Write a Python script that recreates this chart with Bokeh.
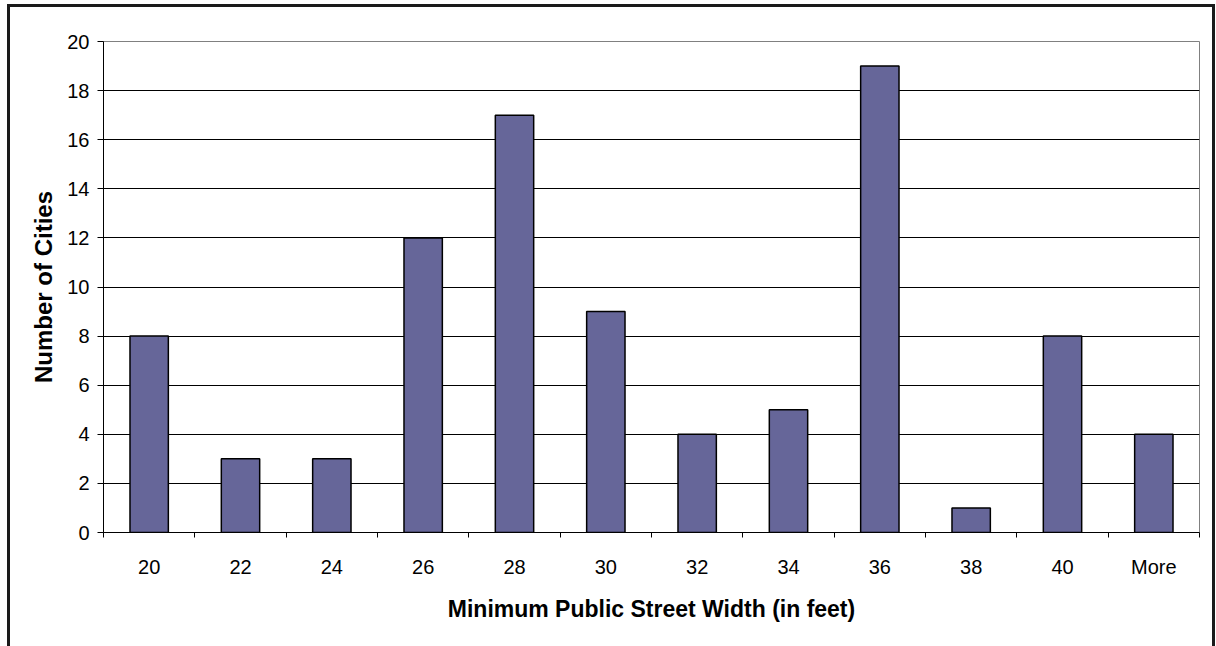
from bokeh.plotting import figure
from bokeh.models import ColumnDataSource, FixedTicker, Range1d
from bokeh.embed import file_html
from bokeh.resources import INLINE

categories = ["20", "22", "24", "26", "28", "30", "32", "34", "36", "38", "40", "More"]
counts = [8, 3, 3, 12, 17, 9, 4, 5, 19, 1, 8, 4]
y_ticks = [0, 2, 4, 6, 8, 10, 12, 14, 16, 18, 20]

x_centers = [i + 0.5 for i in range(len(categories))]
src = ColumnDataSource(dict(x=x_centers, top=counts, cat=categories))

p = figure(width=1202, height=639, output_backend="svg", toolbar_location=None,
           x_range=Range1d(0, len(categories)), y_range=Range1d(0, 20),
           min_border_left=93, min_border_right=19, min_border_top=34, min_border_bottom=117)
p.styles = {"border-top": "3px solid #1a1a1a", "border-left": "3px solid #1a1a1a",
            "border-right": "3px solid #1a1a1a", "border-bottom": "none",
            "box-sizing": "content-box", "margin-left": "7px", "margin-top": "4px"}
p.background_fill_color = "white"
p.border_fill_color = "white"
p.outline_line_color = "#808080"
p.outline_line_width = 1

p.vbar(x="x", top="top", bottom=0, width=0.42, source=src,
       fill_color="#666699", line_color="black", line_width=1.5)

font = "Liberation Sans"

# X axis: labels at bar centres, tick marks at category boundaries
xa = p.xaxis[0]
xa.ticker = FixedTicker(ticks=x_centers, minor_ticks=list(range(len(categories) + 1)))
xa.major_label_overrides = {x: c for x, c in zip(x_centers, categories)}
xa.major_tick_out = 0
xa.major_tick_in = 0
xa.minor_tick_out = 5
xa.minor_tick_in = 0
xa.minor_tick_line_color = "black"
xa.axis_line_color = "black"
xa.major_label_text_font = font
xa.major_label_text_font_size = "20px"
xa.major_label_text_color = "black"
xa.major_label_standoff = 18
xa.axis_label = "Minimum Public Street Width (in feet)"
xa.axis_label_text_font = font
xa.axis_label_text_font_size = "23px"
xa.axis_label_text_font_style = "bold"
xa.axis_label_text_color = "black"
xa.axis_label_standoff = 15

ya = p.yaxis[0]
ya.ticker = FixedTicker(ticks=y_ticks, minor_ticks=[])
ya.major_tick_out = 6
ya.major_tick_in = 0
ya.major_tick_line_color = "black"
ya.axis_line_color = "black"
ya.major_label_text_font = font
ya.major_label_text_font_size = "20px"
ya.major_label_text_color = "black"
ya.major_label_standoff = 8
ya.axis_label = "Number of Cities"
ya.axis_label_text_font = font
ya.axis_label_text_font_size = "24px"
ya.axis_label_text_font_style = "bold"
ya.axis_label_text_color = "black"
ya.axis_label_standoff = 7

p.xgrid.grid_line_color = None
p.ygrid.ticker = FixedTicker(ticks=y_ticks)
p.ygrid.grid_line_color = "black"
p.ygrid.grid_line_width = 1

open("out.html", "w").write(file_html(p, INLINE))
